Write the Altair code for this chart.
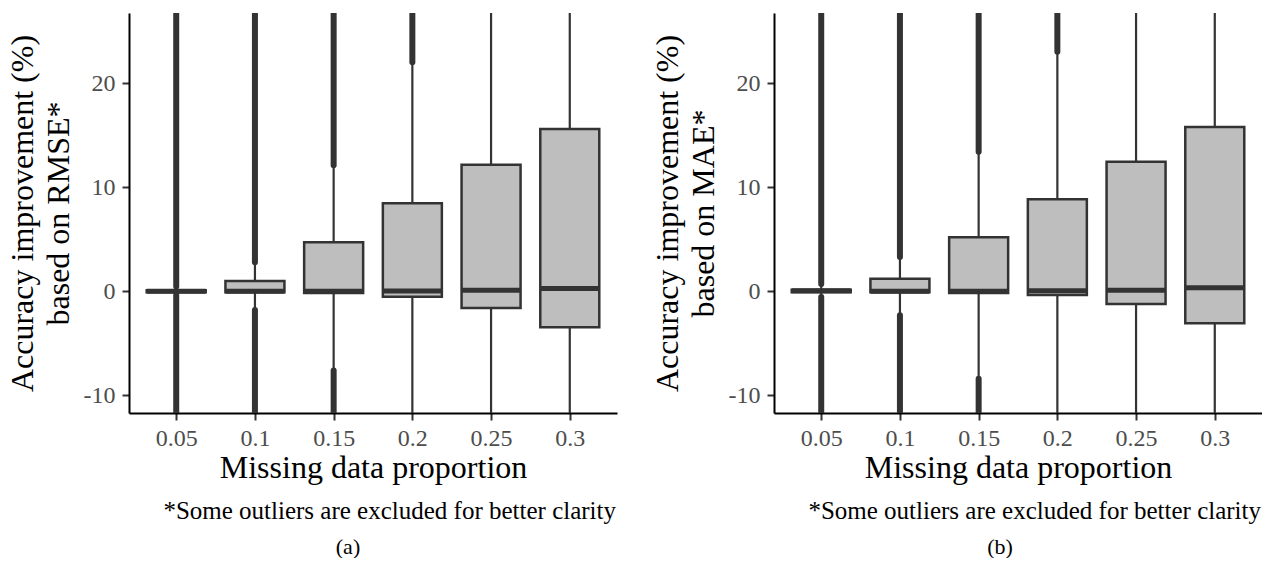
import altair as alt
import pandas as pd

# ---------------- data ----------------
cats = ["0.05", "0.1", "0.15", "0.2", "0.25", "0.3"]

# panel (a): RMSE based
rmse_q1 = [-0.1, -0.1, -0.17, -0.52, -1.6, -3.46]
rmse_med = [0.0, 0.0, 0.0, 0.03, 0.1, 0.27]
rmse_q3 = [0.1, 1.0, 4.7, 8.46, 12.15, 15.6]
rmse_wlo = [-0.35, -1.8, -7.6, -12.0, -12.0, -12.0]
rmse_whi = [0.45, 2.8, 12.1, 22.0, 27.0, 27.0]
rmse_out_min = [-12.0, -12.0, -12.0, None, None, None]
rmse_out_max = [27.0, 27.0, 27.0, 27.0, None, None]

# panel (b): MAE based
mae_q1 = [-0.1, -0.1, -0.17, -0.36, -1.23, -3.06]
mae_med = [0.05, 0.0, 0.0, 0.05, 0.1, 0.34]
mae_q3 = [0.15, 1.2, 5.2, 8.85, 12.44, 15.77]
mae_wlo = [-0.55, -2.3, -8.4, -12.0, -12.0, -12.0]
mae_whi = [0.7, 3.3, 13.4, 23.0, 27.0, 27.0]
mae_out_min = [-12.0, -12.0, -12.0, None, None, None]
mae_out_max = [27.0, 27.0, 27.0, 27.0, None, None]

y_ticks = [-10, 0, 10, 20]
y_domain = [-11.69, 26.73]

x_title = "Missing data proportion"
caption = "*Some outliers are excluded for better clarity"

FONT = "Liberation Serif"
BOX_FILL = "#bebebe"
DARK = "#333333"
W, H = 488, 400


def panel(q1, med, q3, wlo, whi, omin, omax, ytitle, label, label_x, anchor=False):
    df = pd.DataFrame({"cat": cats, "q1": q1, "med": med, "q3": q3,
                       "wlo": wlo, "whi": whi, "omin": omin, "omax": omax})
    xenc = alt.X("cat:O", sort=cats,
                 scale=alt.Scale(type="point", padding=0.6),
                 axis=alt.Axis(title=x_title, labelAngle=0, titleX=W / 2, titleY=64,
                               titleBaseline="alphabetic", labelPadding=6))
    yscale = alt.Scale(domain=y_domain, nice=False, zero=False)
    yaxis = alt.Axis(values=y_ticks, title=ytitle, labelExpr="'' + datum.value",
                     titleX=-97, titleY=H / 2, titleBaseline="alphabetic",
                     titleLineHeight=36, labelPadding=7)

    def Y(f):
        return alt.Y(f, type="quantitative", scale=yscale, axis=yaxis)

    base = alt.Chart(df)
    out_hi = base.transform_filter("isValid(datum.omax)").mark_rule(
        strokeWidth=6, strokeCap="round", color=DARK, clip=True
    ).encode(x=xenc, y=Y("whi"), y2="omax")
    out_lo = base.transform_filter("isValid(datum.omin)").mark_rule(
        strokeWidth=6, strokeCap="round", color=DARK, clip=True
    ).encode(x=xenc, y=Y("wlo"), y2="omin")
    wh_hi = base.mark_rule(strokeWidth=2.2, color=DARK, clip=True).encode(
        x=xenc, y=Y("q3"), y2="whi")
    wh_lo = base.mark_rule(strokeWidth=2.2, color=DARK, clip=True).encode(
        x=xenc, y=Y("q1"), y2="wlo")
    box = base.mark_bar(size=59, fill=BOX_FILL, stroke=DARK, strokeWidth=2.5,
                        clip=True).encode(x=xenc, y=Y("q1"), y2="q3")
    median = base.mark_tick(size=59, thickness=5, color=DARK, opacity=1,
                            clip=True).encode(x=xenc, y=Y("med"))

    cap = alt.Chart(pd.DataFrame({"t": [caption]})).mark_text(
        align="right", baseline="alphabetic", font=FONT, fontSize=25, color="black"
    ).encode(x=alt.value(W - 1), y=alt.value(505.5), text="t:N")
    lab = alt.Chart(pd.DataFrame({"t": [label]})).mark_text(
        align="center", baseline="alphabetic", font=FONT, fontSize=22, color="black"
    ).encode(x=alt.value(label_x), y=alt.value(541), text="t:N")

    layers = [out_hi, out_lo, wh_hi, wh_lo, box, median, cap, lab]
    if anchor:
        pin = alt.Chart(pd.DataFrame({"p": [0]})).mark_rule(
            opacity=0, strokeWidth=1
        ).encode(x=alt.value(-129), x2=alt.value(-129),
                 y=alt.value(-13), y2=alt.value(-13))
        layers.append(pin)
    return alt.layer(*layers).properties(width=W, height=H)


pa = panel(rmse_q1, rmse_med, rmse_q3, rmse_wlo, rmse_whi, rmse_out_min, rmse_out_max,
           ["Accuracy improvement (%)", "based on RMSE*"], "(a)", 219, anchor=True)
pb = panel(mae_q1, mae_med, mae_q3, mae_wlo, mae_whi, mae_out_min, mae_out_max,
           ["Accuracy improvement (%)", "based on MAE*"], "(b)", 226)

chart = alt.hconcat(pa, pb, spacing=157, bounds="flush").properties(
    padding=0, background="white"
).configure_view(strokeWidth=0).configure_axis(
    grid=False,
    domainColor="black", domainWidth=2,
    tickColor=DARK, tickWidth=2, tickSize=7,
    labelFont=FONT, labelFontSize=24, labelColor="#4d4d4d",
    titleFont=FONT, titleFontSize=32, titleColor="black", titleFontWeight="normal",
)

chart.save("out.html", embed_options={"renderer": "svg", "actions": False})
